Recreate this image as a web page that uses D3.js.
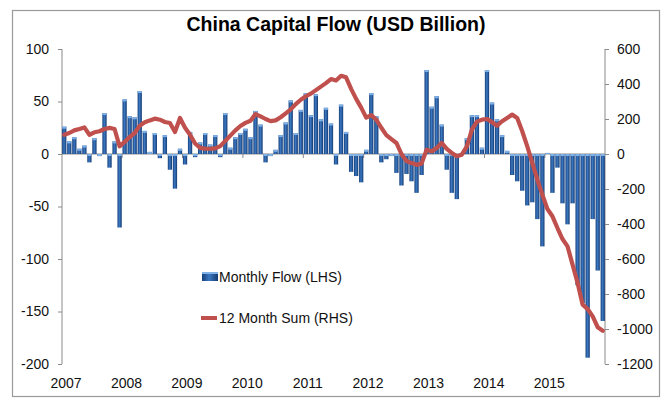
<!DOCTYPE html>
<html>
<head>
<meta charset="utf-8">
<script src="https://cdn.jsdelivr.net/npm/d3@7"></script>
<style>
  html, body { margin: 0; padding: 0; background: #fff; }
  svg { display: block; font-family: "Liberation Sans", Arial, sans-serif; }
</style>
</head>
<body>
<svg id="chart" width="663" height="399"></svg>
<script>
// Years covered and month labels used to build the monthly categories
const years = [2007, 2008, 2009, 2010, 2011, 2012, 2013, 2014, 2015];
const monthNames = ["Jan","Feb","Mar","Apr","May","Jun","Jul","Aug","Sep","Oct","Nov","Dec"];

// Monthly capital flow, USD billion (left axis), one row per year
const monthlyFlow = [
  26, 12, 16, 5, 8, -8, 15, -2, 39, -13, 12, -70,        // 2007
  52, 36, 35, 60, 22, 2, 20, -4, 18, -15, -33, 5,         // 2008
  -10, 21, -3, 11, 20, 9, 18, -3, 39, 6, 16, 20,          // 2009
  24, 16, 41, 28, -8, -2, 4, 18, 30, 51, 20, 42,          // 2010
  58, 37, 57, 33, 44, 29, -10, 47, 21, -17, -21, -27,     // 2011
  4, 58, 36, -8, -5, -2, -18, -30, -19, -26, -37, -20,    // 2012
  80, 45, 55, 28, -15, -37, -43, 1, 15, 37, 37, 6,        // 2013
  80, 49, 33, 18, 3, -20, -26, -35, -49, -46, -62, -88,   // 2014
  1, -37, -13, -47, -67, -47, -125, -142, -194, -62, -111, -159 // 2015
];

// Rolling 12 month sum, USD billion (right axis)
const sum12 = [
  110, 120, 135, 143, 152, 110, 124, 130, 143, 149, 143, 44,
  69, 97, 120, 162, 181, 192, 202, 196, 183, 177, 126, 206,
  150, 110, 60, 35, 30, 30, 32, 45, 75, 105, 135, 160,
  178, 190, 228, 215, 200, 188, 192, 210, 232, 255, 285, 310,
  330, 345, 365, 385, 405, 428, 420, 447, 438, 372, 315, 265,
  208, 222, 196, 150, 108, 85, 63, 0, -40, -52, -62, -55,
  25, 15, 34, 63, 29, 6, -13, -4, 44, 139, 185, 196,
  200, 181, 162, 187, 206, 225, 206, 130, 44, -51, -147, -232,
  -314, -356, -423, -486, -528, -632, -737, -861, -886, -928, -990, -1010
];

const leftTicks = [100, 50, 0, -50, -100, -150, -200];
const rightTicks = [600, 400, 200, 0, -200, -400, -600, -800, -1000, -1200];

const title = "China Capital Flow (USD Billion)";
const legendBars = "Monthly Flow (LHS)";
const legendLine = "12 Month Sum (RHS)";

// Monthly categories, e.g. "2007-Jan"
const months = years.flatMap(y => monthNames.map(m => y + "-" + m));

const svg = d3.select("#chart");
const W = 663, H = 399;
const plot = { left: 62, right: 605, top: 49, bottom: 364 };
const axisColor = "#8a8a8a";
const textColor = "#111";
const plainNumber = d => String(d);   // keeps an ASCII hyphen for negatives

svg.append("rect").attr("width", W).attr("height", H).attr("fill", "#fff");

// Outer chart frame
svg.append("rect")
  .attr("x", 12.5).attr("y", 10.5)
  .attr("width", 647).attr("height", 386)
  .attr("fill", "none").attr("stroke", "#9a9a9a").attr("stroke-width", 1.2);

// Gradient fill for the bars (bevelled column look)
const defs = svg.append("defs");
const grad = defs.append("linearGradient").attr("id", "barGrad")
  .attr("x1", "0%").attr("x2", "100%").attr("y1", "0%").attr("y2", "0%");
grad.append("stop").attr("offset", "0%").attr("stop-color", "#163f7a");
grad.append("stop").attr("offset", "45%").attr("stop-color", "#3b78c2");
grad.append("stop").attr("offset", "100%").attr("stop-color", "#143a72");

const x = d3.scaleBand().domain(months).range([plot.left, plot.right])
  .paddingInner(0.15).paddingOuter(0.02);
const yL = d3.scaleLinear().domain([-200, 100]).range([plot.bottom, plot.top]);
const yR = d3.scaleLinear().domain([-1200, 600]).range([plot.bottom, plot.top]);

// Title
svg.append("text")
  .attr("x", 336).attr("y", 31)
  .attr("text-anchor", "middle")
  .attr("font-size", 19.5).attr("font-weight", "bold")
  .attr("fill", "#000")
  .text(title);

// Left axis
const leftAxis = d3.axisLeft(yL).tickValues(leftTicks).tickFormat(plainNumber)
  .tickSize(4).tickPadding(9);
const gL = svg.append("g").attr("transform", `translate(${plot.left},0)`).call(leftAxis);
gL.select(".domain").attr("stroke", axisColor).attr("d", `M-0,${plot.top}V${plot.bottom}`);
gL.selectAll(".tick line").attr("stroke", axisColor);
gL.selectAll(".tick text").attr("fill", textColor).attr("font-size", 14)
  .attr("font-family", "'Liberation Sans', Arial, sans-serif");

// Right axis
const rightAxis = d3.axisRight(yR).tickValues(rightTicks).tickFormat(plainNumber)
  .tickSize(4).tickPadding(8);
const gR = svg.append("g").attr("transform", `translate(${plot.right},0)`).call(rightAxis);
gR.select(".domain").attr("stroke", axisColor).attr("d", `M0,${plot.top}V${plot.bottom}`);
gR.selectAll(".tick line").attr("stroke", axisColor);
gR.selectAll(".tick text").attr("fill", textColor).attr("font-size", 14)
  .attr("font-family", "'Liberation Sans', Arial, sans-serif");

// Category axis along the zero line, ticks at each January
const zeroY = yL(0);
const step = x.step();
const janMonths = years.map(y => y + "-Jan");
const gX = svg.append("g");
gX.append("line")
  .attr("x1", plot.left).attr("x2", plot.right)
  .attr("y1", zeroY).attr("y2", zeroY)
  .attr("stroke", axisColor).attr("stroke-width", 1);
gX.selectAll("line.tick").data(janMonths.slice(1)).join("line")
  .attr("class", "tick")
  .attr("x1", d => x(d) - step * x.paddingInner() / 2)
  .attr("x2", d => x(d) - step * x.paddingInner() / 2)
  .attr("y1", zeroY).attr("y2", zeroY + 4)
  .attr("stroke", axisColor);

// Year labels along the bottom
svg.append("g").selectAll("text").data(years).join("text")
  .attr("x", d => x(d + "-Jan") + 4)
  .attr("y", 388)
  .attr("text-anchor", "middle")
  .attr("font-size", 14)
  .attr("fill", textColor)
  .text(d => d);

// Monthly flow bars
const bw = x.bandwidth();
const bars = svg.append("g");
months.forEach((m, i) => {
  const v = monthlyFlow[i];
  const y0 = yL(Math.max(0, v));
  const h = Math.abs(yL(v) - yL(0));
  bars.append("rect")
    .attr("x", x(m)).attr("y", y0)
    .attr("width", bw).attr("height", h)
    .attr("fill", "url(#barGrad)");
  bars.append("rect")
    .attr("x", x(m)).attr("y", y0)
    .attr("width", bw).attr("height", Math.min(2, h))
    .attr("fill", "#7fb0e6");
});

// 12 month sum line
const line = d3.line()
  .x((d, i) => x(months[i]) + bw / 2)
  .y(d => yR(d));
svg.append("path")
  .datum(sum12)
  .attr("d", line)
  .attr("fill", "none")
  .attr("stroke", "#c0504d")
  .attr("stroke-width", 4.2)
  .attr("stroke-linejoin", "round")
  .attr("stroke-linecap", "round");

// Legend
const lg = svg.append("g");
lg.append("rect").attr("x", 202).attr("y", 272).attr("width", 16).attr("height", 9)
  .attr("fill", "url(#barGrad)");
lg.append("rect").attr("x", 202).attr("y", 272).attr("width", 16).attr("height", 2)
  .attr("fill", "#7fb0e6");
lg.append("text").attr("x", 219).attr("y", 282)
  .attr("font-size", 14).attr("fill", textColor).text(legendBars);
lg.append("line").attr("x1", 201).attr("x2", 217).attr("y1", 318).attr("y2", 318)
  .attr("stroke", "#c0504d").attr("stroke-width", 4);
lg.append("text").attr("x", 219).attr("y", 323)
  .attr("font-size", 14).attr("fill", textColor).text(legendLine);
</script>
</body>
</html>
